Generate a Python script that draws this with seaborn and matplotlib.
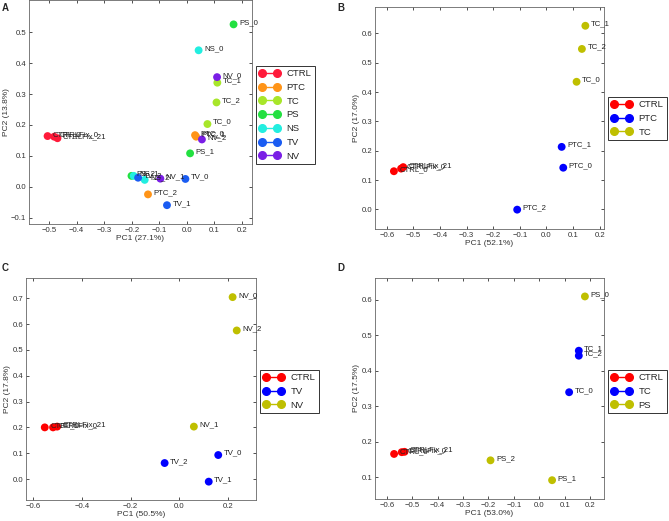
import numpy as np
import pandas as pd
import matplotlib
matplotlib.use('Agg')
import matplotlib.pyplot as plt
from matplotlib.lines import Line2D
import seaborn as sns

# ---- data ----
# panel A: all groups
a_groups = ['CTRL', 'PTC', 'TC', 'PS', 'NS', 'TV', 'NV']
a_colors = ['#ff1a3a', '#ff9418', '#a8e62a', '#22e040', '#22eee0', '#1a5cf2', '#7a1ee6']
a_names = ['CTRL_0', 'CTRLFix_0', 'CTRLFix_21',
           'PTC_0', 'PTC_1', 'PTC_2',
           'TC_0', 'TC_1', 'TC_2',
           'PS_0', 'PS_1', 'PS_2',
           'NS_0', 'NS_1', 'NS_2',
           'TV_0', 'TV_1', 'TV_2',
           'NV_0', 'NV_1', 'NV_2']
a_pc1 = [-0.506, -0.482, -0.470,
         0.030, 0.034, -0.141,
         0.075, 0.111, 0.108,
         0.170, 0.012, -0.201,
         0.043, -0.193, -0.153,
         -0.005, -0.072, -0.177,
         0.110, -0.096, 0.055]
a_pc2 = [0.164, 0.162, 0.157,
         0.167, 0.162, -0.025,
         0.203, 0.337, 0.273,
         0.526, 0.108, 0.035,
         0.442, 0.035, 0.022,
         0.025, -0.060, 0.029,
         0.355, 0.026, 0.153]

# panel B: CTRL / PTC / TC
b_groups = ['CTRL', 'PTC', 'TC']
b_names = ['CTRL_0', 'CTRLFix_0', 'CTRLFix_21', 'PTC_0', 'PTC_1', 'PTC_2', 'TC_0', 'TC_1', 'TC_2']
b_pc1 = [-0.573, -0.546, -0.538, 0.063, 0.057, -0.110, 0.113, 0.146, 0.133]
b_pc2 = [0.130, 0.139, 0.144, 0.142, 0.213, -0.001, 0.435, 0.626, 0.547]

# panel C: CTRL / TV / NV
c_groups = ['CTRL', 'TV', 'NV']
c_names = ['CTRL_0', 'CTRLFix_0', 'CTRLFix_21', 'TV_0', 'TV_1', 'TV_2', 'NV_0', 'NV_1', 'NV_2']
c_pc1 = [-0.552, -0.518, -0.501, 0.160, 0.121, -0.060, 0.219, 0.060, 0.236]
c_pc2 = [0.200, 0.200, 0.203, 0.093, -0.010, 0.062, 0.704, 0.203, 0.575]

# panel D: CTRL / TC / PS
d_groups = ['CTRL', 'TC', 'PS']
d_names = ['CTRL_0', 'CTRLFix_0', 'CTRLFix_21', 'TC_0', 'TC_1', 'TC_2', 'PS_0', 'PS_1', 'PS_2']
d_pc1 = [-0.571, -0.541, -0.530, 0.117, 0.155, 0.155, 0.179, 0.050, -0.192]
d_pc2 = [0.165, 0.170, 0.171, 0.339, 0.456, 0.442, 0.609, 0.091, 0.147]

three_colors = ['#ff0000', '#0000ff', '#bfbf00']

sns.set_style('ticks')
plt.rcParams['font.family'] = ['Liberation Sans', 'DejaVu Sans']
plt.rcParams['xtick.direction'] = 'in'
plt.rcParams['ytick.direction'] = 'in'
plt.rcParams['xtick.top'] = True
plt.rcParams['ytick.right'] = True

fig = plt.figure(figsize=(6.69, 5.21), dpi=100)


def panel(rect, names, pc1, pc2, groups, colors, xlab, ylab, xlim, ylim, xticks, yticks, leg_xy, letter, letter_xy):
    ax = fig.add_axes(rect)
    df = pd.DataFrame({'name': names, 'PC1': pc1, 'PC2': pc2})
    df['group'] = df['name'].str.split('_').str[0].str.replace('CTRLFix', 'CTRL')
    sns.scatterplot(data=df, x='PC1', y='PC2', hue='group', hue_order=groups,
                    palette=dict(zip(groups, colors)), s=32, edgecolor='none',
                    legend=False, ax=ax, zorder=3)
    dx = 0.024 * (xlim[1] - xlim[0])
    dy = 0.008 * (ylim[1] - ylim[0])
    for _, r in df.iterrows():
        ax.text(r['PC1'] + dx, r['PC2'] + dy, r['name'], fontsize=5.6,
                color='#222222', va='center', zorder=4)
    ax.set_xlim(xlim)
    ax.set_ylim(ylim)
    ax.set_xticks(xticks)
    ax.set_yticks(yticks)
    ax.tick_params(labelsize=5.6, length=2.5, width=0.6, pad=2, colors='#333333')
    ax.set_xlabel(xlab, fontsize=6, labelpad=1, color='#333333')
    ax.set_ylabel(ylab, fontsize=6, labelpad=1, color='#333333')
    for s in ax.spines.values():
        s.set_linewidth(0.6)
        s.set_color('#666666')
    handles = [Line2D([0], [0], color=c, marker='o', markersize=5.5, lw=1) for c in colors]
    leg = fig.legend(handles, groups, loc='upper left', bbox_to_anchor=leg_xy,
                     fontsize=6.8, numpoints=2, handlelength=2.2, fancybox=False,
                     framealpha=1, edgecolor='#333333', borderpad=0.35,
                     labelspacing=0.5, handletextpad=0.7, borderaxespad=0)
    leg.get_frame().set_linewidth(0.7)
    fig.text(letter_xy[0], letter_xy[1], letter, fontsize=7, fontweight='bold')
    return ax


W, H = 669, 521


def rect(l, t, r, b):
    return [l / W, 1 - b / H, (r - l) / W, (b - t) / H]


def fxy(x, y):
    return (x / W, 1 - y / H)


panel(rect(29, 0, 252, 224), a_names, a_pc1, a_pc2, a_groups, a_colors,
      'PC1 (27.1%)', 'PC2 (13.8%)', (-0.5735, 0.237), (-0.121, 0.605),
      np.round(np.arange(-0.5, 0.21, 0.1), 1), np.round(np.arange(-0.1, 0.51, 0.1), 1),
      fxy(256, 66), 'A', fxy(2, 11))

panel(rect(375, 7, 604, 229), b_names, b_pc1, b_pc2, b_groups, three_colors,
      'PC1 (52.1%)', 'PC2 (17.0%)', (-0.644, 0.216), (-0.067, 0.69),
      np.round(np.arange(-0.6, 0.21, 0.1), 1), np.round(np.arange(0.0, 0.61, 0.1), 1),
      fxy(608, 97), 'B', fxy(337, 11))

panel(rect(26, 278, 256, 500), c_names, c_pc1, c_pc2, c_groups, three_colors,
      'PC1 (50.5%)', 'PC2 (17.8%)', (-0.629, 0.315), (-0.081, 0.778),
      np.round(np.arange(-0.6, 0.21, 0.2), 1), np.round(np.arange(0.0, 0.71, 0.1), 1),
      fxy(260, 370), 'C', fxy(2, 271))

panel(rect(375, 278, 604, 499), d_names, d_pc1, d_pc2, d_groups, three_colors,
      'PC1 (53.0%)', 'PC2 (17.5%)', (-0.646, 0.254), (0.038, 0.661),
      np.round(np.arange(-0.6, 0.21, 0.1), 1), np.round(np.arange(0.1, 0.61, 0.1), 1),
      fxy(608, 370), 'D', fxy(337, 271))

fig.savefig('out.png', dpi=100)
